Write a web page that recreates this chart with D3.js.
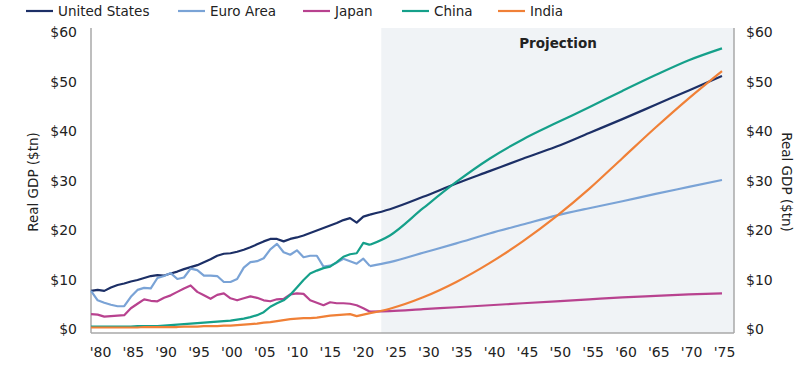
<!DOCTYPE html>
<html>
<head>
<meta charset="utf-8">
<script src="https://cdn.jsdelivr.net/npm/d3@7"></script>
<style>
  body { margin: 0; background: #fff; }
  text { font-family: "DejaVu Sans", Verdana, sans-serif; fill: #222; }
</style>
</head>
<body>
<div class="canvas"></div>
<script>
// data
const countries = ["United States", "Euro Area", "Japan", "China", "India"];
const colors = ["#1c2f66", "#7aa3d6", "#b8428f", "#15a08a", "#f08037"];

const histYears = d3.range(1980, 2023);
const usHist = [7.8, 8.0, 7.8, 8.5, 9.0, 9.3, 9.7, 10.0, 10.4, 10.8, 11.0, 10.9, 11.3, 11.7, 12.2, 12.6, 13.0, 13.6, 14.2, 14.9,
  15.3, 15.4, 15.7, 16.1, 16.6, 17.2, 17.8, 18.3, 18.3, 17.8, 18.3, 18.6, 19.0, 19.5, 20.0, 20.5, 21.0, 21.5, 22.1, 22.5,
  21.6, 22.8, 23.2];
const euroHist = [7.8, 5.9, 5.4, 5.0, 4.7, 4.7, 6.6, 8.0, 8.4, 8.3, 10.4, 10.8, 11.4, 10.2, 10.5, 12.3, 12.0, 10.9, 10.9, 10.8,
  9.6, 9.6, 10.2, 12.5, 13.6, 13.8, 14.4, 16.2, 17.3, 15.6, 15.1, 16.0, 14.6, 14.9, 14.9, 12.7, 12.9, 13.5, 14.3, 13.8,
  13.3, 14.3, 12.8];
const japanHist = [3.1, 3.0, 2.6, 2.7, 2.8, 2.9, 4.3, 5.2, 6.1, 5.8, 5.7, 6.4, 6.9, 7.6, 8.3, 8.9, 7.6, 6.9, 6.2, 7.0,
  7.3, 6.3, 5.9, 6.3, 6.7, 6.4, 5.9, 5.7, 6.1, 6.2, 7.1, 7.3, 7.2, 5.9, 5.4, 4.9, 5.5, 5.3, 5.3, 5.2,
  4.9, 4.3, 3.6];
const chinaHist = [0.6, 0.6, 0.6, 0.6, 0.6, 0.6, 0.6, 0.7, 0.7, 0.7, 0.7, 0.8, 0.9, 1.0, 1.1, 1.2, 1.3, 1.4, 1.5, 1.6,
  1.7, 1.8, 2.0, 2.2, 2.5, 2.9, 3.5, 4.6, 5.3, 5.9, 7.0, 8.5, 10.0, 11.3, 11.9, 12.4, 12.7, 13.6, 14.7, 15.2,
  15.4, 17.5, 17.1];
const indiaHist = [0.4, 0.4, 0.4, 0.4, 0.4, 0.4, 0.4, 0.4, 0.5, 0.5, 0.5, 0.5, 0.5, 0.5, 0.6, 0.6, 0.6, 0.7, 0.7, 0.7,
  0.8, 0.8, 0.9, 1.0, 1.1, 1.2, 1.4, 1.5, 1.7, 1.9, 2.1, 2.2, 2.3, 2.3, 2.4, 2.6, 2.8, 2.9, 3.0, 3.1,
  2.7, 3.0, 3.3];

const projYears = [2025, 2030, 2035, 2040, 2045, 2050, 2055, 2060, 2065, 2070, 2075];
const usProj = [24.3, 26.8, 29.5, 32.0, 34.5, 36.9, 39.7, 42.5, 45.4, 48.3, 51.2];
const euroProj = [13.6, 15.5, 17.4, 19.4, 21.2, 23.0, 24.5, 25.9, 27.4, 28.8, 30.2];
const japanProj = [3.7, 4.1, 4.5, 4.9, 5.3, 5.7, 6.1, 6.5, 6.8, 7.1, 7.3];
const chinaProj = [19.0, 24.5, 29.8, 34.5, 38.4, 41.7, 44.9, 48.2, 51.4, 54.4, 56.8];
const indiaProj = [4.2, 6.5, 9.6, 13.4, 17.8, 22.8, 28.4, 34.6, 40.8, 46.7, 52.2];

const xTicks = [1980, 1985, 1990, 1995, 2000, 2005, 2010, 2015, 2020, 2025, 2030, 2035, 2040, 2045, 2050, 2055, 2060, 2065, 2070, 2075];
const yTicks = [0, 10, 20, 30, 40, 50, 60];
const projectionStart = 2023.7;

const hist = [usHist, euroHist, japanHist, chinaHist, indiaHist];
const proj = [usProj, euroProj, japanProj, chinaProj, indiaProj];

const width = 808;
const height = 371;
const plotLeft = 91;
const plotRight = 734;
const plotTop = 28;
const plotBottom = 333;

const svg = d3
  .select(".canvas")
  .append("svg")
  .attr("width", width)
  .attr("height", height);

// scales
const xScale = d3.scaleLinear().domain([1980, 2075]).range([plotLeft, 722]);
// tick labels sit a little right of the data positions in the original
const xLabelScale = d3.scaleLinear().domain([1980, 2075]).range([100, 724]);
const yScale = d3.scaleLinear().domain([0, 60]).range([329.5, 32.5]);

// projection shading
svg
  .append("rect")
  .attr("x", xScale(projectionStart))
  .attr("y", plotTop)
  .attr("width", plotRight - xScale(projectionStart))
  .attr("height", plotBottom - plotTop)
  .attr("fill", "#f0f3f6");

svg
  .append("text")
  .text("Projection")
  .attr("x", 558)
  .attr("y", 48)
  .attr("text-anchor", "middle")
  .attr("font-size", 13.5)
  .attr("font-weight", "bold");

// axes
const axisColor = "#a8a8a8";
svg.append("line").attr("x1", plotLeft).attr("y1", plotTop).attr("x2", plotLeft).attr("y2", plotBottom)
  .attr("stroke", axisColor).attr("stroke-width", 1.5);
svg.append("line").attr("x1", plotRight).attr("y1", plotTop).attr("x2", plotRight).attr("y2", plotBottom)
  .attr("stroke", axisColor).attr("stroke-width", 1.5);
svg.append("line").attr("x1", plotLeft).attr("y1", plotBottom).attr("x2", plotRight).attr("y2", plotBottom)
  .attr("stroke", axisColor).attr("stroke-width", 1.5);

const leftAxis = svg
  .append("g")
  .attr("transform", `translate(${plotLeft},0)`)
  .call(d3.axisLeft(yScale).tickValues(yTicks).tickFormat((d) => "$" + d).tickSize(0).tickPadding(14));
const rightAxis = svg
  .append("g")
  .attr("transform", `translate(${plotRight},0)`)
  .call(d3.axisRight(yScale).tickValues(yTicks).tickFormat((d) => "$" + d).tickSize(0).tickPadding(12));
const bottomAxis = svg
  .append("g")
  .attr("transform", `translate(0,${plotBottom})`)
  .call(d3.axisBottom(xLabelScale).tickValues(xTicks).tickFormat((d) => "'" + String(d).slice(2)).tickSize(0).tickPadding(14));

[leftAxis, rightAxis, bottomAxis].forEach((g) => {
  g.select(".domain").remove();
  g.selectAll("text").attr("font-size", 14).attr("font-family", "DejaVu Sans, Verdana, sans-serif").attr("fill", "#222");
});

svg
  .append("text")
  .text("Real GDP ($tn)")
  .attr("transform", "translate(38,182) rotate(-90)")
  .attr("text-anchor", "middle")
  .attr("font-size", 13.5);

svg
  .append("text")
  .text("Real GDP ($tn)")
  .attr("transform", "translate(782,182) rotate(90)")
  .attr("text-anchor", "middle")
  .attr("font-size", 13.5);

// lines
const histLine = d3.line().x((d) => xScale(d[0])).y((d) => yScale(d[1]));
const projLine = d3.line().x((d) => xScale(d[0])).y((d) => yScale(d[1])).curve(d3.curveMonotoneX);

for (let i = 0; i < countries.length; i++) {
  const h = histYears.map((yr, j) => [yr, hist[i][j]]);
  const p = [h[h.length - 1]].concat(projYears.map((yr, j) => [yr, proj[i][j]]));

  svg.append("path").attr("d", histLine(h)).attr("fill", "none")
    .attr("stroke", colors[i]).attr("stroke-width", 2.2).attr("stroke-linejoin", "round");
  svg.append("path").attr("d", projLine(p)).attr("fill", "none")
    .attr("stroke", colors[i]).attr("stroke-width", 2.2);
}

// legend
const legendX = [26, 178, 303, 402, 498];
for (let i = 0; i < countries.length; i++) {
  svg.append("line")
    .attr("x1", legendX[i]).attr("y1", 11)
    .attr("x2", legendX[i] + 27).attr("y2", 11)
    .attr("stroke", colors[i]).attr("stroke-width", 2.2);
  svg.append("text")
    .text(countries[i])
    .attr("x", legendX[i] + 32)
    .attr("y", 16)
    .attr("font-size", 13.5);
}
</script>
</body>
</html>
